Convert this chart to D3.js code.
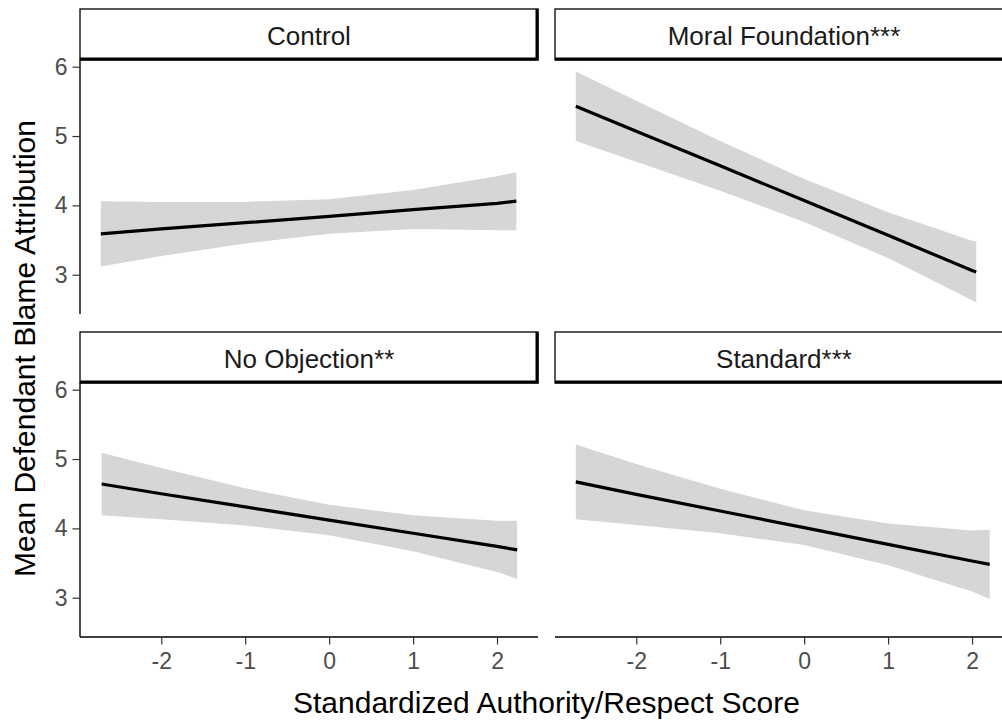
<!DOCTYPE html>
<html>
<head>
<meta charset="utf-8">
<script src="https://cdn.jsdelivr.net/npm/d3@7"></script>
<style>
  html, body { margin: 0; padding: 0; background: #ffffff; }
  svg { display: block; font-family: "Liberation Sans", Arial, sans-serif; }
</style>
</head>
<body>
<svg id="chart" width="1002" height="720"></svg>
<script>
// Facet labels (reading order: row by row)
const facetLabels = ["Control", "Moral Foundation***", "No Objection**", "Standard***"];

// Predicted blame with 95% band, per condition, at sampled authority/respect scores
const controlX   = [-2.72, -2, -1, 0, 1, 2, 2.23];
const controlFit = [3.59, 3.66, 3.75, 3.84, 3.94, 4.03, 4.06];
const controlLo  = [3.12, 3.27, 3.45, 3.59, 3.66, 3.64, 3.64];
const controlHi  = [4.06, 4.05, 4.05, 4.09, 4.22, 4.42, 4.48];

const moralX   = [-2.72, -2, -1, 0, 1, 2, 2.05];
const moralFit = [5.43, 5.07, 4.57, 4.07, 3.57, 3.06, 3.04];
const moralLo  = [4.93, 4.63, 4.21, 3.76, 3.24, 2.63, 2.60];
const moralHi  = [5.93, 5.51, 4.93, 4.38, 3.90, 3.49, 3.48];

const noObjX   = [-2.71, -2, -1, 0, 1, 2, 2.24];
const noObjFit = [4.64, 4.50, 4.31, 4.12, 3.93, 3.74, 3.69];
const noObjLo  = [4.19, 4.13, 4.04, 3.90, 3.67, 3.37, 3.27];
const noObjHi  = [5.09, 4.87, 4.58, 4.34, 4.19, 4.11, 4.11];

const standardX   = [-2.72, -2, -1, 0, 1, 2, 2.21];
const standardFit = [4.67, 4.49, 4.25, 4.01, 3.77, 3.53, 3.48];
const standardLo  = [4.13, 4.05, 3.93, 3.76, 3.47, 3.09, 2.98];
const standardHi  = [5.21, 4.93, 4.57, 4.26, 4.07, 3.97, 3.98];

// Axis ticks
const xTicks = [-2, -1, 0, 1, 2];
const yTicks = [3, 4, 5, 6];

const xTitle = "Standardized Authority/Respect Score";
const yTitle = "Mean Defendant Blame Attribution";

// Build per-panel tables
function rows(xs, fit, lo, hi) {
  return xs.map((x, i) => ({ x, fit: fit[i], lo: lo[i], hi: hi[i] }));
}
const panels = [
  { label: facetLabels[0], data: rows(controlX, controlFit, controlLo, controlHi) },
  { label: facetLabels[1], data: rows(moralX, moralFit, moralLo, moralHi) },
  { label: facetLabels[2], data: rows(noObjX, noObjFit, noObjLo, noObjHi) },
  { label: facetLabels[3], data: rows(standardX, standardFit, standardLo, standardHi) }
];

// Layout
const marginLeft = 80, panelW = 458, hGap = 17;
const marginTop = 9, stripH = 51, panelH = 254, vGap = 18;
const tickLen = 7.5;
const tickFont = "23px", stripFont = "26px", titleFont = "30px";

// plain hyphen-minus for negative tick labels
const fmt = v => String(v);

const svg = d3.select("#chart");

// Shared scales with 5% expansion
const allX = panels.flatMap(p => p.data.map(d => d.x));
const allY = panels.flatMap(p => p.data.flatMap(d => [d.lo, d.hi]));
function expand([a, b]) { const e = (b - a) * 0.05; return [a - e, b + e]; }
const xDom = expand(d3.extent(allX));
const yDom = expand(d3.extent(allY));

panels.forEach((p, i) => {
  const col = i % 2, row = Math.floor(i / 2);
  const x0 = marginLeft + col * (panelW + hGap);
  const sy = marginTop + row * (stripH + panelH + vGap);
  const py = sy + stripH;

  const x = d3.scaleLinear().domain(xDom).range([x0, x0 + panelW]);
  const y = d3.scaleLinear().domain(yDom).range([py + panelH, py]);

  const g = svg.append("g");

  // confidence band
  g.append("path")
    .datum(p.data)
    .attr("fill", "#d6d6d6")
    .attr("d", d3.area().x(d => x(d.x)).y0(d => y(d.lo)).y1(d => y(d.hi)));

  // fitted line
  g.append("path")
    .datum(p.data)
    .attr("fill", "none")
    .attr("stroke", "#000")
    .attr("stroke-width", 3.2)
    .attr("d", d3.line().x(d => x(d.x)).y(d => y(d.fit)));

  // y axis on the left column
  if (col === 0) {
    const ya = g.append("g")
      .attr("transform", `translate(${x0},0)`)
      .call(d3.axisLeft(y).tickValues(yTicks).tickFormat(fmt).tickSize(tickLen).tickPadding(5));
    ya.select(".domain").attr("stroke", "#000").attr("stroke-width", 1.4)
      .attr("d", `M0,${py}V${py + panelH}`);
    ya.selectAll(".tick line").attr("stroke", "#333").attr("stroke-width", 1.2);
    ya.selectAll(".tick text").attr("fill", "#4d4d4d").style("font-size", tickFont)
      .style("font-family", "'Liberation Sans', Arial, sans-serif");
  }

  // x axis on the bottom row
  if (row === 1) {
    const xa = g.append("g")
      .attr("transform", `translate(0,${py + panelH})`)
      .call(d3.axisBottom(x).tickValues(xTicks).tickFormat(fmt).tickSize(tickLen).tickPadding(8));
    xa.select(".domain").attr("stroke", "#000").attr("stroke-width", 1.4)
      .attr("d", `M${x0},0H${x0 + panelW}`);
    xa.selectAll(".tick line").attr("stroke", "#333").attr("stroke-width", 1.2);
    xa.selectAll(".tick text").attr("fill", "#4d4d4d").style("font-size", tickFont)
      .style("font-family", "'Liberation Sans', Arial, sans-serif");
  }

  // strip
  const s = svg.append("g");
  s.append("rect")
    .attr("x", x0).attr("y", sy).attr("width", panelW).attr("height", stripH)
    .attr("fill", "#fff").attr("stroke", "#000").attr("stroke-width", 1.3);
  s.append("path")
    .attr("fill", "none").attr("stroke", "#000").attr("stroke-width", 3)
    .attr("d", `M${x0},${sy + stripH - 1}H${x0 + panelW - 1}V${sy}`);
  s.append("text")
    .attr("x", x0 + panelW / 2).attr("y", sy + stripH / 2 + 1)
    .attr("text-anchor", "middle").attr("dominant-baseline", "central")
    .attr("fill", "#1a1a1a").style("font-size", stripFont)
    .text(p.label);
});

// axis titles
const panelsTop = marginTop + stripH;
const panelsBottom = marginTop + 2 * (stripH + panelH) + vGap;
svg.append("text")
  .attr("x", (marginLeft + marginLeft + 2 * panelW + hGap) / 2)
  .attr("y", 713)
  .attr("text-anchor", "middle")
  .attr("fill", "#000").style("font-size", titleFont)
  .text(xTitle);
svg.append("text")
  .attr("transform", `translate(35,${(panelsTop + panelsBottom) / 2}) rotate(-90)`)
  .attr("text-anchor", "middle")
  .attr("fill", "#000").style("font-size", titleFont)
  .text(yTitle);
</script>
</body>
</html>
